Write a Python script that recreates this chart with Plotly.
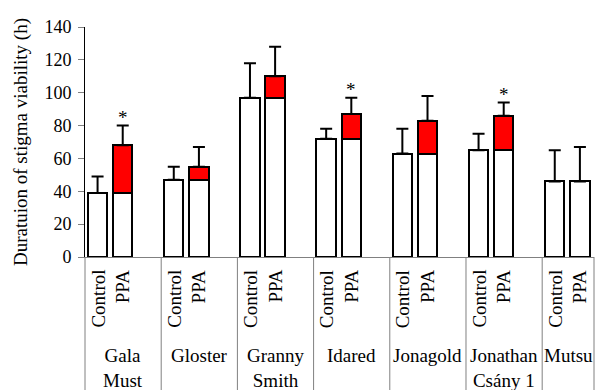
import plotly.graph_objects as go

# Stigma viability per apple cultivar, control vs. PPA treatment (hours)
cultivars = ["Gala<br>Must", "Gloster", "Granny<br>Smith", "Idared", "Jonagold",
             "Jonathan<br>Csány 1", "Mutsu"]
treatments = ["Control", "PPA"]
control_mean = [39, 47, 97, 72, 63, 65, 46]
control_sd = [10, 8, 21, 6, 15, 10, 19]
ppa_mean = [68, 55, 110, 87, 83, 86, 46]
ppa_sd = [12, 12, 18, 10, 15, 8, 21]
significant = [True, False, False, True, False, True, False]

FONT = "Liberation Serif"
n = len(cultivars)
x_end = 6.68                      # axis stops part-way through the last group
ctrl_off, ppa_off, bar_w = 0.165, 0.495, 0.255

x_ctrl = [i + ctrl_off for i in range(n)]
x_ppa = [i + ppa_off for i in range(n)]
gain = [p - c for p, c in zip(ppa_mean, control_mean)]

fig = go.Figure()

# Control bars
fig.add_trace(go.Bar(
    x=x_ctrl, y=control_mean, width=bar_w,
    marker=dict(color="white", line=dict(color="black", width=2)),
    error_y=dict(type="data", symmetric=False, array=control_sd,
                 arrayminus=[0] * n, color="black", thickness=2, width=6),
    showlegend=False,
))
# PPA bars: control level in white ...
fig.add_trace(go.Bar(
    x=x_ppa, y=control_mean, width=bar_w,
    marker=dict(color="white", line=dict(color="black", width=2)),
    showlegend=False,
))
# ... and the gain over control in red
fig.add_trace(go.Bar(
    x=x_ppa, y=gain, base=control_mean, width=bar_w,
    marker=dict(color="#ff0000", line=dict(color="black", width=2)),
    error_y=dict(type="data", symmetric=False, array=ppa_sd,
                 arrayminus=[0] * n, color="black", thickness=2, width=6),
    showlegend=False,
))

annotations = []
# significance marks
for i in range(n):
    if significant[i]:
        annotations.append(dict(
            x=x_ppa[i], y=ppa_mean[i] + ppa_sd[i], xref="x", yref="y",
            text="*", showarrow=False, yanchor="bottom", yshift=-4,
            font=dict(family=FONT, size=19, color="black")))

# rotated treatment labels
for i in range(n):
    for xpos, lab in zip((x_ctrl[i], x_ppa[i]), treatments):
        annotations.append(dict(
            x=xpos, y=0, xref="x", yref="paper", text=lab, textangle=-90,
            showarrow=False, xanchor="center", yanchor="top", yshift=-11,
            font=dict(family=FONT, size=19, color="black")))

# cultivar labels, centred in each group
for i in range(n):
    right = min(i + 1, x_end)
    annotations.append(dict(
        x=(i + right) / 2, y=0, xref="x", yref="paper", text=cultivars[i],
        showarrow=False, xanchor="center", yanchor="top", yshift=-86,
        font=dict(family=FONT, size=19, color="black")))

# y-axis title
annotations.append(dict(
    x=0, y=0.5, xref="paper", yref="paper",
    text="Duratuion of stigma viability (h)", textangle=-90,
    showarrow=False, xanchor="center", yanchor="middle", xshift=-64,
    font=dict(family=FONT, size=19, color="black")))

# group separators below the axis
shapes = []
for xb in list(range(n)) + [x_end]:
    shapes.append(dict(
        type="line", xref="paper", yref="paper",
        x0=xb / x_end, x1=xb / x_end, y0=0, y1=-0.62,
        line=dict(color="#808080", width=1)))

fig.update_layout(
    width=598, height=390,
    margin=dict(l=85, r=4, t=27, b=133),
    paper_bgcolor="white", plot_bgcolor="white",
    barmode="overlay", bargap=0,
    annotations=annotations, shapes=shapes,
    font=dict(family=FONT, size=18, color="black"),
)
fig.update_xaxes(
    range=[0, x_end], showticklabels=False, ticks="", showgrid=False,
    zeroline=False, showline=True, linecolor="#808080", linewidth=1,
    layer="below traces",
)
fig.update_yaxes(
    range=[0, 140], tickvals=[0, 20, 40, 60, 80, 100, 120, 140],
    ticks="outside", ticklen=6, tickcolor="#808080", tickwidth=1,
    showgrid=False, zeroline=False, showline=True, linecolor="black",
    linewidth=1, tickfont=dict(family=FONT, size=18, color="black"),
    ticklabelstandoff=3,
)

fig.write_html("out.html")
